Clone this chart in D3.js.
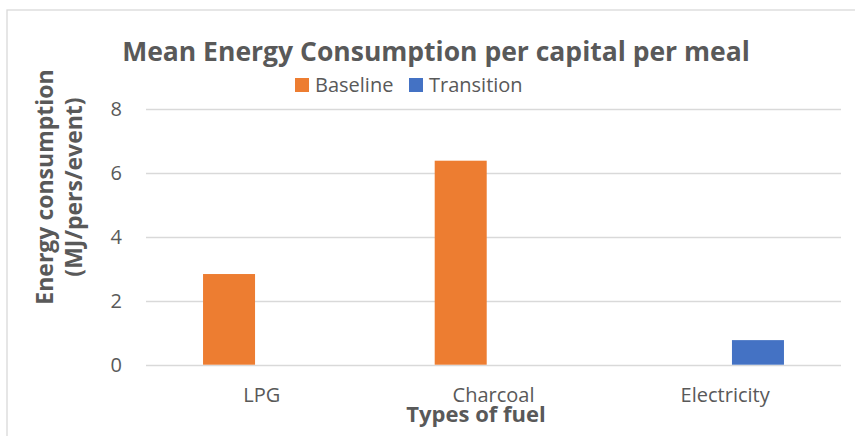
<!DOCTYPE html>
<html><head><meta charset="utf-8">
<script src="https://cdn.jsdelivr.net/npm/d3@7"></script>
<style>
html,body{margin:0;padding:0;background:#fff;}
svg{display:block;font-family:"Open Sans",sans-serif;}
</style></head>
<body><svg id="chart" width="855" height="436"></svg>
<script>
const categories = ["LPG", "Charcoal", "Electricity"];
const seriesNames = ["Baseline", "Transition"];
const baselineValues = [2.84, 6.39, null];
const transitionValues = [null, null, 0.77];
const yTicks = [0, 2, 4, 6, 8];
const colors = ["#ED7D31", "#4472C4"];

const svg = d3.select("#chart");
const textColor = "#595959";
const gridColor = "#D9D9D9";

// chart border
svg.append("rect").attr("x", 7).attr("y", 10).attr("width", 880).attr("height", 460)
  .attr("fill", "none").attr("stroke", gridColor).attr("stroke-width", 1.3);

const plot = {left: 146, right: 841, top: 109.3, bottom: 364.7};

const x0 = d3.scaleBand().domain(categories).range([plot.left, plot.right]).paddingInner(0).paddingOuter(0);
const groupWidth = 117.6;
const x1 = d3.scaleBand().domain(seriesNames).range([0, groupWidth]).paddingInner(0.207);
const y = d3.scaleLinear().domain([0, 8]).range([plot.bottom, plot.top]);

// gridlines
svg.append("g").selectAll("line").data(yTicks).join("line")
  .attr("x1", plot.left).attr("x2", plot.right)
  .attr("y1", d => Math.round(y(d)) + 0.5).attr("y2", d => Math.round(y(d)) + 0.5)
  .attr("stroke", gridColor).attr("stroke-width", 1.5);

// y tick labels
svg.append("g").selectAll("text").data(yTicks).join("text")
  .attr("x", 122).attr("y", d => y(d)).attr("dy", "0.35em")
  .attr("text-anchor", "end").attr("fill", textColor).attr("font-size", 20)
  .text(d => d);

// bars
const series = [baselineValues, transitionValues];
seriesNames.forEach((name, si) => {
  const data = categories.map((c, i) => ({cat: c, v: series[si][i]})).filter(d => d.v != null);
  svg.append("g").selectAll("rect").data(data).join("rect")
    .attr("x", d => x0(d.cat) + (x0.bandwidth() - groupWidth) / 2 + x1(name))
    .attr("width", x1.bandwidth())
    .attr("y", d => y(d.v))
    .attr("height", d => y(0) - y(d.v))
    .attr("fill", colors[si]);
});

// x tick labels
svg.append("g").selectAll("text").data(categories).join("text")
  .attr("x", d => x0(d) + x0.bandwidth() / 2).attr("y", 402)
  .attr("text-anchor", "middle").attr("fill", textColor).attr("font-size", 20)
  .text(d => d);

// title
svg.append("text").attr("x", 436).attr("y", 61).attr("text-anchor", "middle")
  .attr("fill", textColor).attr("font-size", 26.5).attr("font-weight", "bold")
  .text("Mean Energy Consumption per capital per meal");

// legend
const legendX = [295, 409];
seriesNames.forEach((name, i) => {
  svg.append("rect").attr("x", legendX[i]).attr("y", 78).attr("width", 14).attr("height", 14).attr("fill", colors[i]);
  svg.append("text").attr("x", legendX[i] + 20).attr("y", 92).attr("fill", textColor)
    .attr("font-size", 20).text(name);
});

// x axis title
svg.append("text").attr("x", 476).attr("y", 422).attr("text-anchor", "middle")
  .attr("fill", textColor).attr("font-size", 22).attr("font-weight", "bold")
  .text("Types of fuel");

// y axis title
const yt = svg.append("text").attr("transform", "translate(53,187) rotate(-90)")
  .attr("text-anchor", "middle").attr("fill", textColor).attr("font-size", 23).attr("font-weight", "bold");
yt.append("tspan").attr("x", 0).attr("y", 0).text("Energy consumption");
yt.append("tspan").attr("x", 0).attr("y", 29).text("(MJ/pers/event)");
</script></body></html>
